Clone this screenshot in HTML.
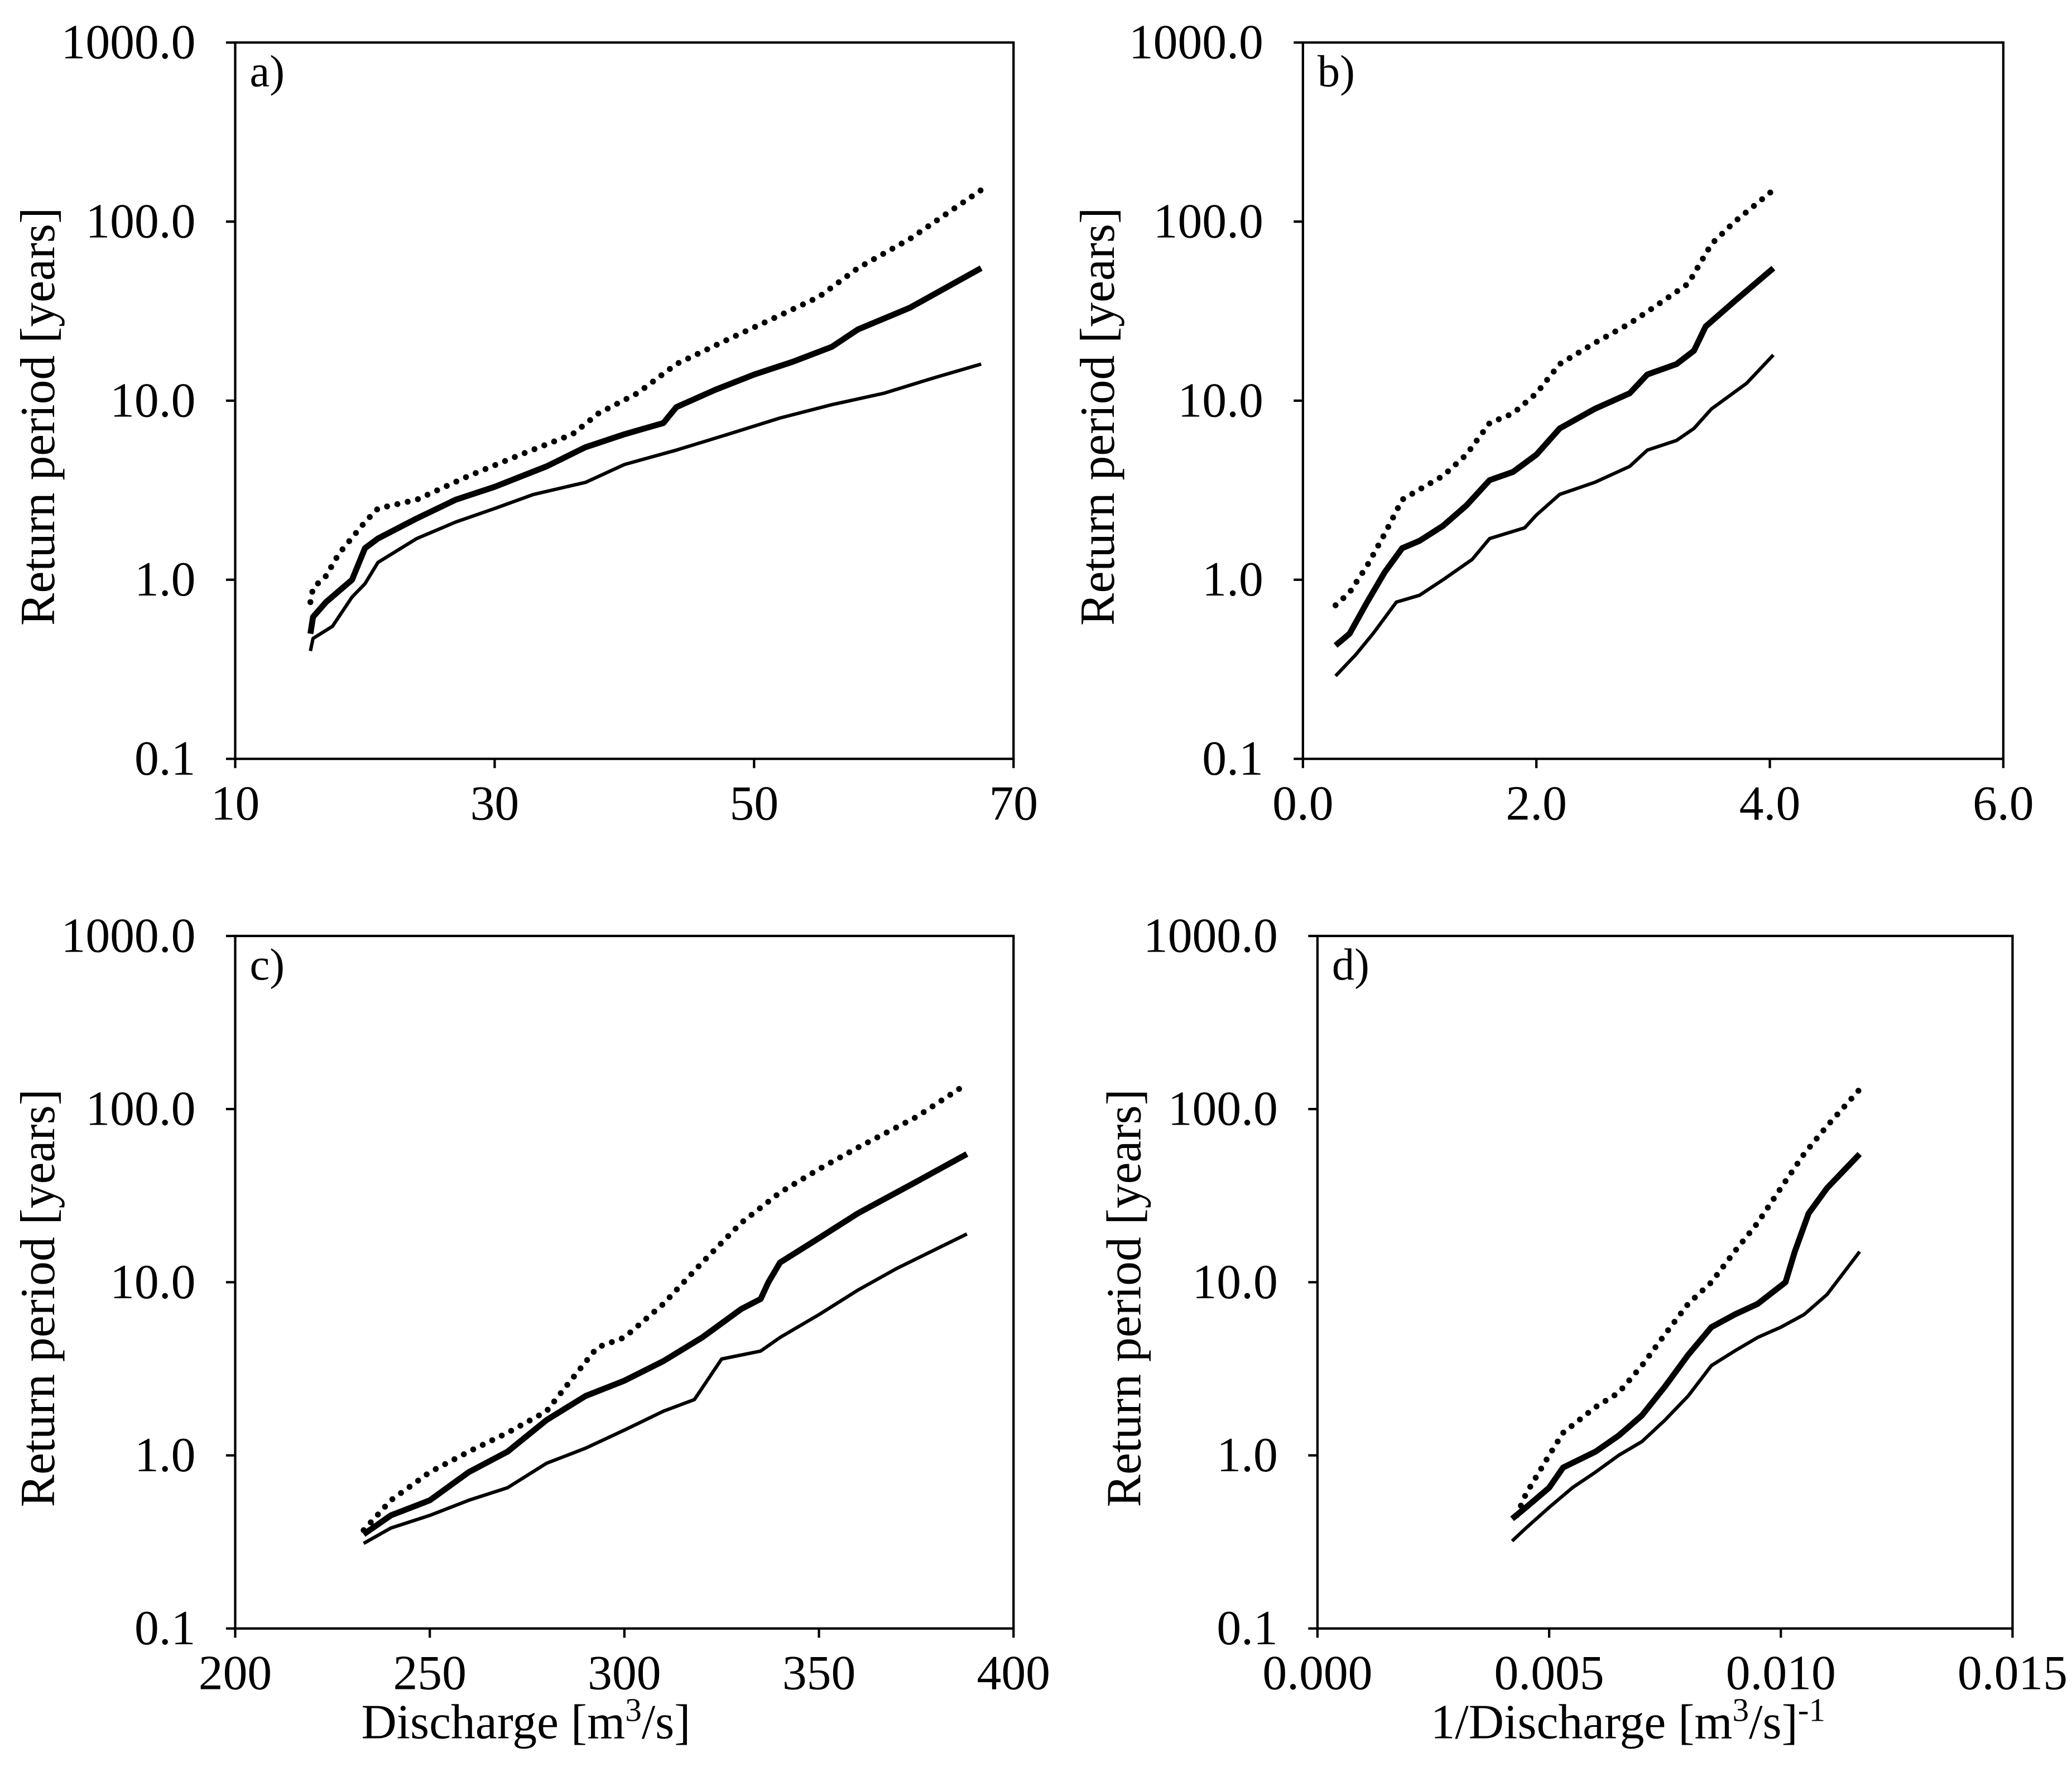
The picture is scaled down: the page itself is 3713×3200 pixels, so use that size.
<!DOCTYPE html>
<html><head><meta charset="utf-8"><style>
html,body{margin:0;padding:0;background:#fff}
svg{display:block}
text{font-family:"Liberation Serif",serif;fill:#000}
</style></head><body>
<svg id="chart" width="3713" height="3200" viewBox="0 0 1568 1351" xmlns="http://www.w3.org/2000/svg"></svg>
<script>
// Panel a data
const aDotX=[15.8,16,17,18,20,21,24,28,32,36,38,41,44,48,52,55,58,62,67.5];
const aDotY=[0.75,0.9,1.05,1.4,2.1,2.5,2.8,3.8,5,6.5,8.5,11,16,22,30,38,55,80,150];
const aThkX=[15.8,16,17,19,20,21,24,27,30,34,37,40,43,44,47,50,53,56,58,62,67.5];
const aThkY=[0.5,0.62,0.75,1.0,1.5,1.7,2.2,2.8,3.3,4.3,5.5,6.5,7.5,9.2,11.5,14,16.5,20,25,33,55];
const aThnX=[15.8,16,17.5,19,20,21,24,27,30,33,37,40,44,48,52,56,60,64,67.5];
const aThnY=[0.4,0.47,0.55,0.8,0.95,1.25,1.7,2.1,2.5,3.0,3.5,4.4,5.3,6.5,8,9.5,11,13.5,16];
// Panel b data
const bDotX=[0.28,0.4,0.55,0.7,0.85,1.0,1.2,1.4,1.6,1.8,2.0,2.2,2.5,2.8,3.0,3.3,3.5,3.7,4.03];
const bDotY=[0.72,0.85,1.2,1.8,2.8,3.2,3.8,5,7.5,8.5,11,16,21,27,33,45,75,100,150];
const bThkX=[0.28,0.4,0.55,0.7,0.85,1.0,1.2,1.4,1.6,1.8,2.0,2.2,2.5,2.8,2.95,3.2,3.35,3.45,3.7,4.03];
const bThkY=[0.43,0.5,0.75,1.1,1.5,1.65,2.0,2.6,3.6,4.0,5.0,7.0,9.0,11,14,16,19,26,36,55];
const bThnX=[0.28,0.45,0.6,0.8,1.0,1.2,1.45,1.6,1.9,2.0,2.2,2.5,2.8,2.95,3.2,3.35,3.5,3.8,4.03];
const bThnY=[0.29,0.38,0.5,0.75,0.82,1.0,1.3,1.7,1.95,2.3,3.0,3.5,4.3,5.3,6.0,7,9,12.5,18];
// Panel c data
const cDotX=[233,240,250,260,270,280,285,293,300,310,320,330,340,350,360,375,388];
const cDotY=[0.37,0.55,0.8,1.05,1.35,1.8,2.5,4.2,4.8,7.5,13,22,33,45,60,90,140];
const cThkX=[233,240,250,260,270,280,290,300,310,320,330,335,337,340,350,360,375,388];
const cThkY=[0.35,0.45,0.55,0.8,1.05,1.6,2.2,2.7,3.5,4.8,7,8,10,13,18,25,38,55];
const cThnX=[233,240,250,260,270,280,290,300,310,318,325,335,340,350,360,370,388];
const cThnY=[0.31,0.38,0.45,0.55,0.65,0.9,1.1,1.4,1.8,2.1,3.6,4.0,4.8,6.5,9,12,19];
// Panel d data
const dDotX=[0.0043,0.0045,0.005,0.0053,0.006,0.0065,0.007,0.0075,0.008,0.0085,0.009,0.0095,0.010,0.0105,0.011,0.0117];
const dDotY=[0.45,0.6,1.0,1.35,1.9,2.3,3.3,5,7.5,10,15,22,35,55,80,130];
const dThkX=[0.0042,0.0045,0.005,0.0053,0.006,0.0065,0.007,0.0075,0.008,0.0085,0.009,0.0095,0.0101,0.0103,0.0106,0.011,0.0117];
const dThkY=[0.43,0.5,0.65,0.85,1.05,1.3,1.7,2.5,3.8,5.5,6.5,7.5,10,15,25,35,55];
const dThnX=[0.0042,0.0045,0.005,0.0055,0.006,0.0065,0.007,0.0075,0.008,0.0085,0.009,0.0095,0.010,0.0105,0.011,0.0117];
const dThnY=[0.32,0.38,0.5,0.65,0.8,1.0,1.2,1.6,2.2,3.3,4.0,4.8,5.5,6.5,8.5,15];
const yTicks=[0.1,1,10,100,1000];
const yTickLabels=["0.1","1.0","10.0","100.0","1000.0"];
const aXTicks=[10,30,50,70], aXLabels=["10","30","50","70"];
const bXTicks=[0,2,4,6], bXLabels=["0.0","2.0","4.0","6.0"];
const cXTicks=[200,250,300,350,400], cXLabels=["200","250","300","350","400"];
const dXTicks=[0,0.005,0.01,0.015], dXLabels=["0.000","0.005","0.010","0.015"];

const NS="http://www.w3.org/2000/svg";
const svg=document.getElementById('chart');
function mk(tag,attrs,parent){const e=document.createElementNS(NS,tag);for(const k in attrs)e.setAttribute(k,attrs[k]);(parent||svg).appendChild(e);return e;}

function panel(cfg){
  const g=mk('g',{});
  
  
  const xs=v=>cfg.x0+(v-cfg.xmin)/(cfg.xmax-cfg.xmin)*(cfg.x1-cfg.x0);
  const ys=v=>cfg.y1-(Math.log10(v)+1)/4*(cfg.y1-cfg.y0);
  const frame=mk('rect',{x:cfg.x0,y:cfg.y0,width:cfg.x1-cfg.x0,height:cfg.y1-cfg.y0,fill:'none',stroke:'#000','stroke-width':1.8},g);
  
  
  yTicks.forEach((t,i)=>{
    const y=ys(t);
    mk('line',{x1:cfg.x0-7,x2:cfg.x0,y1:y,y2:y,stroke:'#000','stroke-width':1.8},g);
    const tx=mk('text',{x:cfg.x0-30,y:y+12,'text-anchor':'end','font-size':37},g);
    tx.textContent=yTickLabels[i];
    
    
  });
  cfg.xt.forEach((t,i)=>{
    const x=xs(t);
    mk('line',{x1:x,x2:x,y1:cfg.y1,y2:cfg.y1+7,stroke:'#000','stroke-width':1.8},g);
    const tx=mk('text',{x:x,y:cfg.y1+46,'text-anchor':'middle','font-size':37},g);
    tx.textContent=cfg.xl[i];
    
    
  });
  const yt=mk('text',{x:0,y:0,'text-anchor':'middle','font-size':37,transform:`translate(${cfg.ytx},${(cfg.y0+cfg.y1)/2+12}) rotate(-90)`},g);
  yt.textContent='Return period [years]';
  
  
  const pl=mk('text',{x:cfg.x0+11,y:cfg.y0+33,'font-size':34},g);
  pl.textContent=cfg.id+')';
  
  
  const series=[[cfg.dx,cfg.dy,'dotted'],[cfg.kx,cfg.ky,'thick'],[cfg.nx,cfg.ny,'thin']];
  series.forEach(([X,Y,kind])=>{
    const d=X.map((v,i)=>(i?'L':'M')+xs(v).toFixed(1)+','+ys(Y[i]).toFixed(1)).join(' ');
    const a={d:d,fill:'none',stroke:'#000','stroke-linejoin':'round'};
    if(kind==='dotted'){a['stroke-width']=4.5;a['stroke-dasharray']='0 8';a['stroke-linecap']='round';}
    else if(kind==='thick'){a['stroke-width']=4.5;}
    else{a['stroke-width']=2.6;}
    const p=mk('path',a,g);
    
    
  });
  if(cfg.xtitle){
    const xt=mk('text',{x:cfg.xtx,y:1315,'text-anchor':'middle','font-size':37},g);
    xt.innerHTML=cfg.xtitle;
    
    
  }
}
panel({id:'a',x0:178,x1:767,y0:32,y1:574,xmin:10,xmax:70,xt:aXTicks,xl:aXLabels,ytx:41,dx:aDotX,dy:aDotY,kx:aThkX,ky:aThkY,nx:aThnX,ny:aThnY});
panel({id:'b',x0:986,x1:1516,y0:32,y1:574,xmin:0,xmax:6,xt:bXTicks,xl:bXLabels,ytx:843,dx:bDotX,dy:bDotY,kx:bThkX,ky:bThkY,nx:bThnX,ny:bThnY});
panel({id:'c',x0:178,x1:767,y0:708,y1:1232,xmin:200,xmax:400,xt:cXTicks,xl:cXLabels,ytx:41,dx:cDotX,dy:cDotY,kx:cThkX,ky:cThkY,nx:cThnX,ny:cThnY,
  xtitle:'Discharge [m<tspan dy="-13" font-size="25">3</tspan><tspan dy="13">/s]</tspan>',xtx:398});
panel({id:'d',x0:997,x1:1523,y0:708,y1:1232,xmin:0,xmax:0.015,xt:dXTicks,xl:dXLabels,ytx:863,dx:dDotX,dy:dDotY,kx:dThkX,ky:dThkY,nx:dThnX,ny:dThnY,
  xtitle:'1/Discharge [m<tspan dy="-13" font-size="25">3</tspan><tspan dy="13">/s]</tspan><tspan dy="-13" font-size="25">-1</tspan>',xtx:1232});
</script>
</body></html>
